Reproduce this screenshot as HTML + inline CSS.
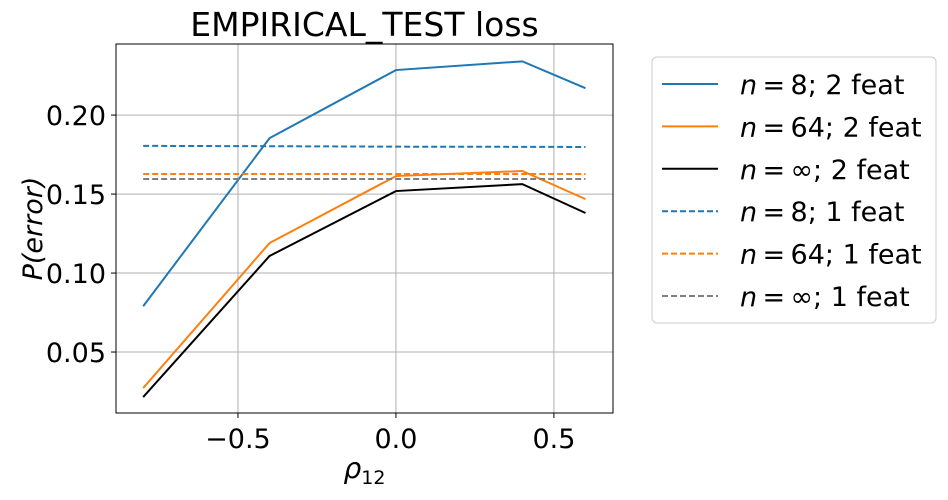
<!DOCTYPE html>
<html><head><meta charset="utf-8"><style>
body{margin:0;background:#fff;}
svg text{font-family:"DejaVu Sans","Liberation Sans",sans-serif;fill:#000;}
</style></head><body>
<svg id="chart" width="948" height="495" xmlns="http://www.w3.org/2000/svg"></svg>
<script>
const xs = [-0.8, -0.4, 0.0, 0.4, 0.6];
const n8two = [0.079, 0.1854, 0.2285, 0.234, 0.217];
const n64two = [0.0272, 0.119, 0.1614, 0.1646, 0.1468];
const ninftwo = [0.0215, 0.1108, 0.1519, 0.1563, 0.138];
const n8one = [0.1805, 0.1803, 0.1800, 0.1799, 0.1798];
const n64one = [0.1627, 0.1627, 0.1627, 0.1627, 0.1627];
const ninfone = [0.1595, 0.1595, 0.1595, 0.1595, 0.1595];
const xTicks = [-0.5, 0.0, 0.5];
const xTickLabels = ["\u22120.5", "0.0", "0.5"];
const yTicks = [0.05, 0.10, 0.15, 0.20];
const yTickLabels = ["0.05", "0.10", "0.15", "0.20"];
const seriesNames = ["n8-2feat","n64-2feat","ninf-2feat","n8-1feat","n64-1feat","ninf-1feat"];
const legendN = ["8","64","\u221e","8","64","\u221e"];
const legendFeat = ["2","2","2","1","1","1"];

const L=116,R=613,T=44,B=413;
const xmin=-0.886,xmax=0.687,ymin=0.0114,ymax=0.245;
const sx=v=>L+(v-xmin)/(xmax-xmin)*(R-L);
const sy=v=>B-(v-ymin)/(ymax-ymin)*(B-T);
const svg=document.getElementById('chart');
const NS="http://www.w3.org/2000/svg";
function mk(tag,attrs,parent){const e=document.createElementNS(NS,tag);for(const k in attrs)e.setAttribute(k,attrs[k]);(parent||svg).appendChild(e);return e;}

xTicks.forEach((t,i)=>{
  const g=mk('line',{x1:sx(t),x2:sx(t),y1:T,y2:B,stroke:'#b0b0b0','stroke-width':1});
  
  
  mk('line',{x1:sx(t),x2:sx(t),y1:B,y2:B+5,stroke:'#000'});
  const tx=mk('text',{x:sx(t),y:B+35,'font-size':27,'text-anchor':'middle'});
  tx.textContent=xTickLabels[i];
  
  
});
yTicks.forEach((t,i)=>{
  const g=mk('line',{x1:L,x2:R,y1:sy(t),y2:sy(t),stroke:'#b0b0b0','stroke-width':1});
  
  
  mk('line',{x1:L-5,x2:L,y1:sy(t),y2:sy(t),stroke:'#000'});
  const tx=mk('text',{x:L-10,y:sy(t)+10,'font-size':27,'text-anchor':'end'});
  tx.textContent=yTickLabels[i];
  
  
});

const series=[[n8two,'#1f77b4',''],[n64two,'#ff7f0e',''],[ninftwo,'#000000',''],[n8one,'#1f77b4','6,3'],[n64one,'#ff7f0e','6,3'],[ninfone,'#7f7f7f','6,3']];
series.forEach((s,k)=>{
  const p=mk('polyline',{points:xs.map((x,i)=>sx(x)+','+sy(s[0][i])).join(' '),fill:'none',stroke:s[1],'stroke-width':2,'stroke-dasharray':s[2]});
  
  
});

const frame=mk('rect',{x:L,y:T,width:R-L,height:B-T,fill:'none',stroke:'#000','stroke-width':1});



const title=mk('text',{x:(L+R)/2,y:36,'font-size':33,'text-anchor':'middle'});
title.textContent='EMPIRICAL_TEST loss';



const yl=mk('text',{x:0,y:0,'font-size':27,'text-anchor':'middle','font-style':'italic',transform:'translate(42,'+((T+B)/2)+') rotate(-90)'});
yl.textContent='P(error)';



const xl=mk('text',{x:(L+R)/2,y:478,'font-size':28,'text-anchor':'middle'});
xl.innerHTML='<tspan font-style="italic">ρ</tspan><tspan font-size="19" dy="6">12</tspan>';



const lg=mk('rect',{x:652,y:57,width:284,height:266,rx:5,fill:'#fff',stroke:'#ccc','stroke-width':1});


series.forEach((s,k)=>{
  const y=84+k*42.4;
  const ln=mk('line',{x1:662,x2:718,y1:y,y2:y,stroke:s[1],'stroke-width':2,'stroke-dasharray':s[2]});
  
  
  const t=mk('text',{x:740,y:y+10,'font-size':27});
  t.innerHTML='<tspan font-style="italic">n</tspan>\u2009=\u2009'+legendN[k]+'; '+legendFeat[k]+' feat';
  
  
});
</script>
</body></html>
